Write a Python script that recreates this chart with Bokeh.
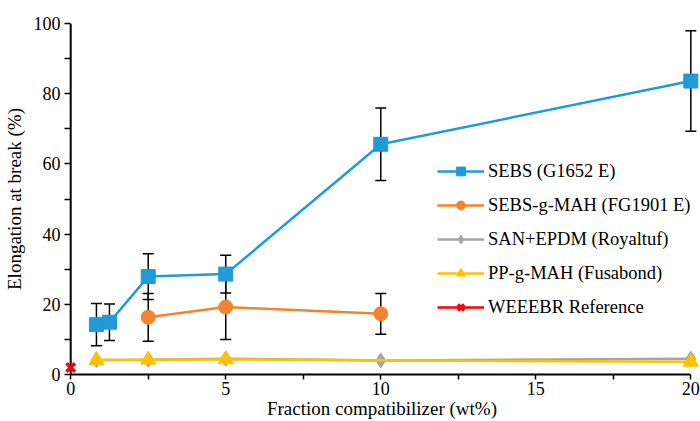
from bokeh.plotting import figure
from bokeh.models import ColumnDataSource, Whisker, Range1d, Legend, LegendItem, FixedTicker, TeeHead, Span
from bokeh.embed import file_html
from bokeh.resources import INLINE

# Data
sebs_x = [0.83, 1.25, 2.5, 5, 10, 20]
sebs_y = [14.2, 14.9, 27.9, 28.6, 65.6, 83.6]
sebs_err = [6.0, 5.2, 6.5, 5.4, 10.3, 14.3]

mah_x = [2.5, 5, 10]
mah_y = [16.3, 19.2, 17.3]
mah_err = [6.8, 9.2, 5.8]

san_x = [0.83, 2.5, 5, 10, 20]
san_y = [4.1, 4.2, 4.5, 4.0, 4.5]

pp_x = [0.83, 2.5, 5, 20]
pp_y = [4.1, 4.2, 4.3, 3.6]

ref_x = [0]
ref_y = [2.0]

x_ticks = [0, 5, 10, 15, 20]
x_minor = [2.5, 7.5, 12.5, 17.5]
y_ticks = [0, 20, 40, 60, 80, 100]
y_minor = [10, 30, 50, 70, 90]

FONT = "Liberation Serif"
BLUE = "#1F9BD7"
ORANGE = "#F5822F"
GRAY = "#A5A5A5"
YELLOW = "#FFC000"
RED = "#FF0000"

p = figure(width=700, height=421, output_backend="svg", toolbar_location=None,
           x_range=Range1d(-0.2, 20.28), y_range=Range1d(0, 100),
           min_border_left=64, min_border_right=1, min_border_top=23, min_border_bottom=46)
p.outline_line_color = None
p.grid.grid_line_color = None

# error bars
for xs, ys, es in [(sebs_x, sebs_y, sebs_err), (mah_x, mah_y, mah_err)]:
    src = ColumnDataSource(dict(x=xs, up=[y + e for y, e in zip(ys, es)], lo=[y - e for y, e in zip(ys, es)]))
    w = Whisker(source=src, base="x", upper="up", lower="lo", line_color="black", line_width=1.5,
                upper_head=TeeHead(size=11, line_color="black", line_width=1.5),
                lower_head=TeeHead(size=11, line_color="black", line_width=1.5))
    p.add_layout(w)

# y axis line at x = 0
p.add_layout(Span(location=0, dimension="height", line_color="black", line_width=2))

l = p.line(san_x, san_y, line_color=GRAY, line_width=2.5)
m = p.scatter(san_x, san_y, marker="diamond", size=15, fill_color=GRAY, line_color=GRAY)
san_r = [l, m]
l = p.line(pp_x, pp_y, line_color=YELLOW, line_width=2.5)
m = p.scatter(pp_x, pp_y, marker="triangle", size=15, fill_color=YELLOW, line_color=YELLOW)
pp_r = [l, m]
l = p.line(mah_x, mah_y, line_color=ORANGE, line_width=2.5)
m = p.scatter(mah_x, mah_y, marker="circle", size=14, fill_color=ORANGE, line_color=ORANGE)
mah_r = [l, m]
l = p.line(sebs_x, sebs_y, line_color=BLUE, line_width=2.5)
m = p.scatter(sebs_x, sebs_y, marker="square", size=14, fill_color=BLUE, line_color=BLUE)
sebs_r = [l, m]
l = p.line(ref_x, ref_y, line_color=RED, line_width=2.5)
m = p.scatter(ref_x, ref_y, marker="x", size=12, line_color=RED, line_width=3.5, level="overlay")
ref_r = [l, m]

legend = Legend(items=[
    LegendItem(label="SEBS (G1652 E)", renderers=sebs_r),
    LegendItem(label="SEBS-g-MAH (FG1901 E)", renderers=mah_r),
    LegendItem(label="SAN+EPDM (Royaltuf)", renderers=san_r),
    LegendItem(label="PP-g-MAH (Fusabond)", renderers=pp_r),
    LegendItem(label="WEEEBR Reference", renderers=ref_r),
], location=(373, 56), orientation="vertical")
legend.background_fill_alpha = 0
legend.border_line_color = None
legend.label_text_font = FONT
legend.label_text_font_size = "18.5px"
legend.label_text_color = "#000000"
legend.glyph_width = 47
legend.glyph_height = 22
legend.label_height = 22
legend.spacing = 12
legend.padding = 0
legend.margin = 0
legend.label_standoff = 4
p.add_layout(legend, "center")

# axes
for ax in [p.xaxis[0], p.yaxis[0]]:
    ax.axis_line_color = "black"
    ax.axis_line_width = 2
    ax.major_tick_line_color = "black"
    ax.minor_tick_line_color = "black"
    ax.major_tick_line_width = 1.5
    ax.minor_tick_line_width = 1.5
    ax.major_tick_out = 5
    ax.major_tick_in = 0
    ax.minor_tick_out = 5
    ax.minor_tick_in = 0
    ax.major_label_text_font = FONT
    ax.major_label_text_font_size = "18px"
    ax.major_label_text_color = "black"
    ax.axis_label_text_font = FONT
    ax.axis_label_text_font_size = "19px"
    ax.axis_label_text_font_style = "normal"
    ax.axis_label_text_color = "black"

# y axis: line drawn by the Span at x=0, ticks reach from frame edge to it
p.yaxis.axis_line_color = None
p.yaxis.major_tick_out = 0
p.yaxis.major_tick_in = 6
p.yaxis.minor_tick_out = 0
p.yaxis.minor_tick_in = 6
p.yaxis.major_label_standoff = 4
p.yaxis.axis_label_standoff = 6

p.xaxis.bounds = (0, 20)
p.xaxis.ticker = FixedTicker(ticks=x_ticks, minor_ticks=x_minor)
p.yaxis.ticker = FixedTicker(ticks=y_ticks, minor_ticks=y_minor)
p.xaxis.axis_label = "Fraction compatibilizer (wt%)"
p.yaxis.axis_label = "Elongation at break (%)"
p.xaxis.major_label_standoff = 2
p.xaxis.axis_label_standoff = 0

open("out.html", "w").write(file_html(p, INLINE))
